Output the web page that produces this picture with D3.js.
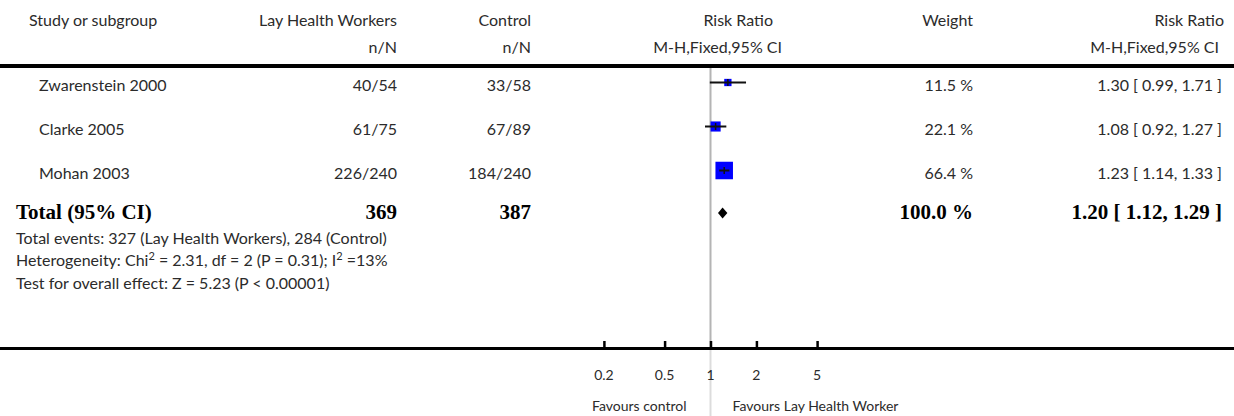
<!DOCTYPE html>
<html>
<head>
<meta charset="utf-8">
<script src="https://cdn.jsdelivr.net/npm/d3@7"></script>
<style>
  body { margin: 0; background: #fff; }
  svg text { font-family: Lato, "Open Sans", sans-serif; font-size: 16px; fill: #2b2b2b; }
  svg text.bold { font-family: "Liberation Serif", serif; font-weight: bold; font-size: 21px; fill: #000; }
</style>
</head>
<body>
<svg id="chart" width="1234" height="416"></svg>
<script>
// study rows
var studies = ["Zwarenstein 2000", "Clarke 2005", "Mohan 2003"];
var lhwEvents = [40, 61, 226];
var lhwTotal = [54, 75, 240];
var ctrlEvents = [33, 67, 184];
var ctrlTotal = [58, 89, 240];
var weights = [11.5, 22.1, 66.4];
var rr = [1.30, 1.08, 1.23];
var rrLow = [0.99, 0.92, 1.14];
var rrHigh = [1.71, 1.27, 1.33];

// pooled
var totalLhw = 369, totalCtrl = 387, totalWeight = 100.0;
var totalRr = 1.20, totalLow = 1.12, totalHigh = 1.29;

var axisTicks = [0.2, 0.5, 1, 2, 5];
var tickLabels = ["0.2", "0.5", "1", "2", "5"];

var svg = d3.select("#chart");
var f2 = d3.format(".2f"), f1 = d3.format(".1f");

// log scale for the risk ratio
var x = d3.scaleLog().domain([0.1, 10]).range([558, 863]);
var rowY = d3.scaleLinear().domain([0, 1]).range([91, 135]);
var boxSize = d3.scaleSqrt().domain([0, 100]).range([0, 21.5]);
var markOff = -8.5; // marks sit a bit above the text baseline

// header
var hdr = svg.append("g");
hdr.append("text").attr("x", 29).attr("y", 26).text("Study or subgroup");
hdr.append("text").attr("x", 397).attr("y", 26).attr("text-anchor", "end").text("Lay Health Workers");
hdr.append("text").attr("x", 397).attr("y", 53).attr("text-anchor", "end").text("n/N");
hdr.append("text").attr("x", 531).attr("y", 26).attr("text-anchor", "end").text("Control");
hdr.append("text").attr("x", 531).attr("y", 53).attr("text-anchor", "end").text("n/N");
hdr.append("text").attr("x", 773).attr("y", 26).attr("text-anchor", "end").text("Risk Ratio");
hdr.append("text").attr("x", 782).attr("y", 53).attr("text-anchor", "end").text("M-H,Fixed,95% CI");
hdr.append("text").attr("x", 973).attr("y", 26).attr("text-anchor", "end").text("Weight");
hdr.append("text").attr("x", 1224).attr("y", 26).attr("text-anchor", "end").text("Risk Ratio");
hdr.append("text").attr("x", 1219).attr("y", 53).attr("text-anchor", "end").text("M-H,Fixed,95% CI");

svg.append("rect").attr("x", 0).attr("y", 64).attr("width", 1234).attr("height", 4).attr("fill", "#000");

// line of no effect
svg.append("line").attr("x1", x(1)).attr("x2", x(1)).attr("y1", 68).attr("y2", 347)
    .attr("stroke", "#b4b4b4").attr("stroke-width", 2);
svg.append("line").attr("x1", x(1)).attr("x2", x(1)).attr("y1", 350).attr("y2", 416)
    .attr("stroke", "#dcdcdc").attr("stroke-width", 2);

// study rows
var rows = svg.selectAll("g.row").data(studies).enter().append("g").attr("class", "row");
rows.append("text").attr("x", 39).attr("y", function (d, i) { return rowY(i); }).text(function (d) { return d; });
rows.append("text").attr("x", 397).attr("y", function (d, i) { return rowY(i); }).attr("text-anchor", "end")
    .text(function (d, i) { return lhwEvents[i] + "/" + lhwTotal[i]; });
rows.append("text").attr("x", 531).attr("y", function (d, i) { return rowY(i); }).attr("text-anchor", "end")
    .text(function (d, i) { return ctrlEvents[i] + "/" + ctrlTotal[i]; });
rows.append("text").attr("x", 973).attr("y", function (d, i) { return rowY(i); }).attr("text-anchor", "end")
    .text(function (d, i) { return f1(weights[i]) + " %"; });
rows.append("text").attr("x", 1222).attr("y", function (d, i) { return rowY(i); }).attr("text-anchor", "end")
    .text(function (d, i) { return f2(rr[i]) + " [ " + f2(rrLow[i]) + ", " + f2(rrHigh[i]) + " ]"; });

rows.append("rect")
    .attr("x", function (d, i) { return x(rr[i]) - boxSize(weights[i]) / 2; })
    .attr("y", function (d, i) { return rowY(i) + markOff - boxSize(weights[i]) / 2; })
    .attr("width", function (d, i) { return boxSize(weights[i]); })
    .attr("height", function (d, i) { return boxSize(weights[i]); })
    .attr("fill", "#0000ff");
rows.append("line")
    .attr("x1", function (d, i) { return x(rrLow[i]); })
    .attr("x2", function (d, i) { return x(rrHigh[i]); })
    .attr("y1", function (d, i) { return rowY(i) + markOff; })
    .attr("y2", function (d, i) { return rowY(i) + markOff; })
    .attr("stroke", "#111").attr("stroke-width", 2);
rows.append("line")
    .attr("x1", function (d, i) { return x(rr[i]); })
    .attr("x2", function (d, i) { return x(rr[i]); })
    .attr("y1", function (d, i) { return rowY(i) + markOff - 3.5; })
    .attr("y2", function (d, i) { return rowY(i) + markOff + 3.5; })
    .attr("stroke", "#111").attr("stroke-width", 1.5);

// total row
var ty = 219;
svg.append("text").attr("class", "bold").attr("x", 16).attr("y", ty).text("Total (95% CI)");
svg.append("text").attr("class", "bold").attr("x", 397).attr("y", ty).attr("text-anchor", "end").text(totalLhw);
svg.append("text").attr("class", "bold").attr("x", 531).attr("y", ty).attr("text-anchor", "end").text(totalCtrl);
svg.append("text").attr("class", "bold").attr("x", 973).attr("y", ty).attr("text-anchor", "end").text(f1(totalWeight) + " %");
svg.append("text").attr("class", "bold").attr("x", 1222).attr("y", ty).attr("text-anchor", "end")
    .text(f2(totalRr) + " [ " + f2(totalLow) + ", " + f2(totalHigh) + " ]");

var dy = 213;
svg.append("path")
    .attr("d", "M" + x(totalLow) + "," + dy + "L" + x(totalRr) + "," + (dy - 5.5) +
        "L" + x(totalHigh) + "," + dy + "L" + x(totalRr) + "," + (dy + 5.5) + "Z")
    .attr("fill", "#000");

// footnotes
svg.append("text").attr("x", 16).attr("y", 244).text("Total events: 327 (Lay Health Workers), 284 (Control)");
var het = svg.append("text").attr("x", 16).attr("y", 266);
het.append("tspan").text("Heterogeneity: Chi");
het.append("tspan").attr("dy", -6).attr("font-size", "11px").text("2");
het.append("tspan").attr("dy", 6).text(" = 2.31, df = 2 (P = 0.31); I");
het.append("tspan").attr("dy", -6).attr("font-size", "11px").text("2");
het.append("tspan").attr("dy", 6).text(" =13%");
svg.append("text").attr("x", 16).attr("y", 289).text("Test for overall effect: Z = 5.23 (P < 0.00001)");

// axis
svg.append("rect").attr("x", 0).attr("y", 347).attr("width", 1234).attr("height", 3).attr("fill", "#000");
var axis = d3.axisTop(x).tickValues(axisTicks).tickSize(6).tickFormat("");
var ag = svg.append("g").attr("transform", "translate(0,347)").call(axis);
ag.select(".domain").remove();
ag.selectAll(".tick line").attr("stroke", "#000").attr("stroke-width", 2.5);

svg.selectAll("text.tlab").data(axisTicks).enter().append("text").attr("class", "tlab")
    .attr("x", function (d) { return x(d); }).attr("y", 380).attr("text-anchor", "middle")
    .style("font-size", "14px")
    .text(function (d, i) { return tickLabels[i]; });

svg.append("text").attr("x", x(1) - 24).attr("y", 411).attr("text-anchor", "end").style("font-size", "14px").text("Favours control");
svg.append("text").attr("x", x(1) + 22).attr("y", 411).style("font-size", "14px").text("Favours Lay Health Worker");
</script>
</body>
</html>
